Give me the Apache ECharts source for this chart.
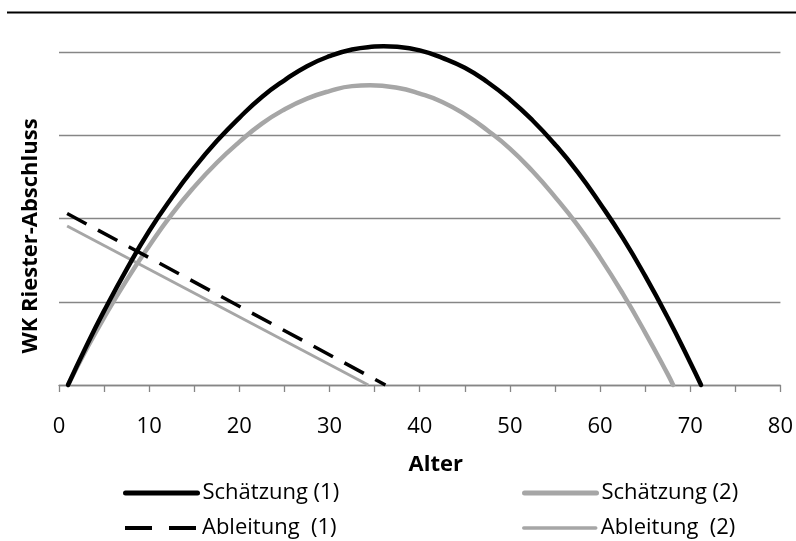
<!DOCTYPE html>
<html>
<head>
<meta charset="utf-8">
<script src="https://cdn.jsdelivr.net/npm/echarts@6/dist/echarts.min.js"></script>
<style>
html,body{margin:0;padding:0;background:#fff;}
#chart{width:796px;height:541px;}
</style>
</head>
<body>
<div id="chart"></div>
<script>
// Alter (x) values and readings from the reference
const ageS1 = [1, 3, 5, 7.5, 10, 12.5, 15, 17.5, 20, 22.5, 25, 27.5, 30, 32.5, 35, 36, 37.5, 40, 42.5, 45, 47.5, 50, 52.5, 55, 57.5, 60, 62.5, 65, 67.5, 70, 71.2];
const valS1 = [0, 0.46, 0.89, 1.39, 1.85, 2.25, 2.61, 2.93, 3.21, 3.46, 3.66, 3.83, 3.95, 4.03, 4.065, 4.07, 4.063, 4.02, 3.93, 3.81, 3.64, 3.43, 3.18, 2.89, 2.56, 2.18, 1.77, 1.31, 0.81, 0.27, 0];
const ageS2 = [1, 3, 5, 7.5, 10, 12.5, 15, 17.5, 20, 22.5, 25, 27.5, 30, 32.5, 34.5, 37.5, 40, 42.5, 45, 47.5, 50, 52.5, 55, 57.5, 60, 62.5, 65, 67.5, 68.1];
const valS2 = [0, 0.42, 0.81, 1.26, 1.67, 2.05, 2.38, 2.67, 2.92, 3.14, 3.31, 3.44, 3.53, 3.59, 3.60, 3.57, 3.50, 3.40, 3.25, 3.06, 2.84, 2.57, 2.26, 1.92, 1.53, 1.10, 0.63, 0.13, 0];
const ageA1 = [0.9, 36.2];
const valA1 = [2.06, 0];
const ageA2 = [0.9, 34.3];
const valA2 = [1.91, 0];
const seriesNames = ['Schätzung (1)', 'Ableitung  (1)', 'Schätzung (2)', 'Ableitung  (2)'];
const xTicks = [0, 10, 20, 30, 40, 50, 60, 70, 80];
const xTitle = 'Alter';
const yTitle = 'WK Riester-Abschluss';

const pairs = (xs, ys) => xs.map((x, i) => [x, ys[i]]);
const FONT = '"Open Sans", "DejaVu Sans", sans-serif';
const axisGray = '#868686';
const lightGray = '#a6a6a6';

const legendPos = [[118, 476], [118, 511], [517, 476], [517, 511]];
const legendLine = [
  {width: 5, cap: 'round'},
  {width: 4, type: [27, 17], cap: 'butt'},
  {width: 5, cap: 'round'},
  {width: 3.5, cap: 'round'}
];
const legends = seriesNames.map((n, i) => ({
  data: [n],
  orient: 'horizontal',
  left: legendPos[i][0], top: legendPos[i][1],
  itemWidth: 72, itemHeight: 14,
  itemStyle: {opacity: 0},
  lineStyle: legendLine[i],
  textStyle: {fontFamily: FONT, fontSize: 22, color: '#000', lineHeight: 24}
}));

const chart = echarts.init(document.getElementById('chart'), null, {renderer: 'canvas'});
chart.setOption({
  animation: false,
  backgroundColor: '#fff',
  textStyle: {fontFamily: FONT},
  grid: {left: 59, right: 12, top: 52, bottom: 156, containLabel: false},
  graphic: [{
    type: 'line',
    shape: {x1: 7, y1: 12.5, x2: 796, y2: 12.5},
    style: {stroke: '#000', lineWidth: 2}
  }, {
    type: 'text',
    x: 31, y: 236, rotation: Math.PI / 2,
    style: {text: yTitle, font: 'bold 22px ' + FONT, fill: '#000', align: 'center', verticalAlign: 'middle'}
  }],
  legend: legends,
  xAxis: {
    type: 'value', min: 0, max: 80, interval: 10,
    name: xTitle, nameLocation: 'middle', nameGap: 69,
    nameTextStyle: {fontFamily: FONT, fontSize: 22, fontWeight: 'bold', color: '#000', padding: [0, 0, 0, 32]},
    axisLine: {show: true, onZero: false, lineStyle: {color: axisGray, width: 1.3}},
    axisTick: {show: true, length: 7, lineStyle: {color: axisGray, width: 1.3}},
    minorTick: {show: true, splitNumber: 2, length: 7, lineStyle: {color: axisGray, width: 1.3}},
    axisLabel: {fontFamily: FONT, fontSize: 22, color: '#000', margin: 31,
      formatter: v => xTicks.indexOf(v) >= 0 ? String(v) : ''},
    splitLine: {show: false}
  },
  yAxis: {
    type: 'value', min: 0, max: 4, interval: 1,
    axisLine: {show: false}, axisTick: {show: false},
    axisLabel: {show: false},
    splitLine: {show: true, lineStyle: {color: axisGray, width: 1.3}}
  },
  series: [{
    name: seriesNames[0], type: 'line', data: pairs(ageS1, valS1),
    smooth: 0.5, symbol: 'none', showSymbol: false, clip: false,
    lineStyle: {color: '#000', width: 4.5, cap: 'round'}, itemStyle: {color: '#000'}, z: 4
  }, {
    name: seriesNames[1], type: 'line', data: pairs(ageA1, valA1),
    symbol: 'none', showSymbol: false, clip: false,
    lineStyle: {color: '#000', width: 3.5, type: [22, 13]}, itemStyle: {color: '#000'}, z: 3
  }, {
    name: seriesNames[2], type: 'line', data: pairs(ageS2, valS2),
    smooth: 0.5, symbol: 'none', showSymbol: false, clip: false,
    lineStyle: {color: lightGray, width: 4.5, cap: 'round'}, itemStyle: {color: lightGray}, z: 2
  }, {
    name: seriesNames[3], type: 'line', data: pairs(ageA2, valA2),
    symbol: 'none', showSymbol: false, clip: false,
    lineStyle: {color: lightGray, width: 3}, itemStyle: {color: lightGray}, z: 1
  }]
});
</script>
</body>
</html>
